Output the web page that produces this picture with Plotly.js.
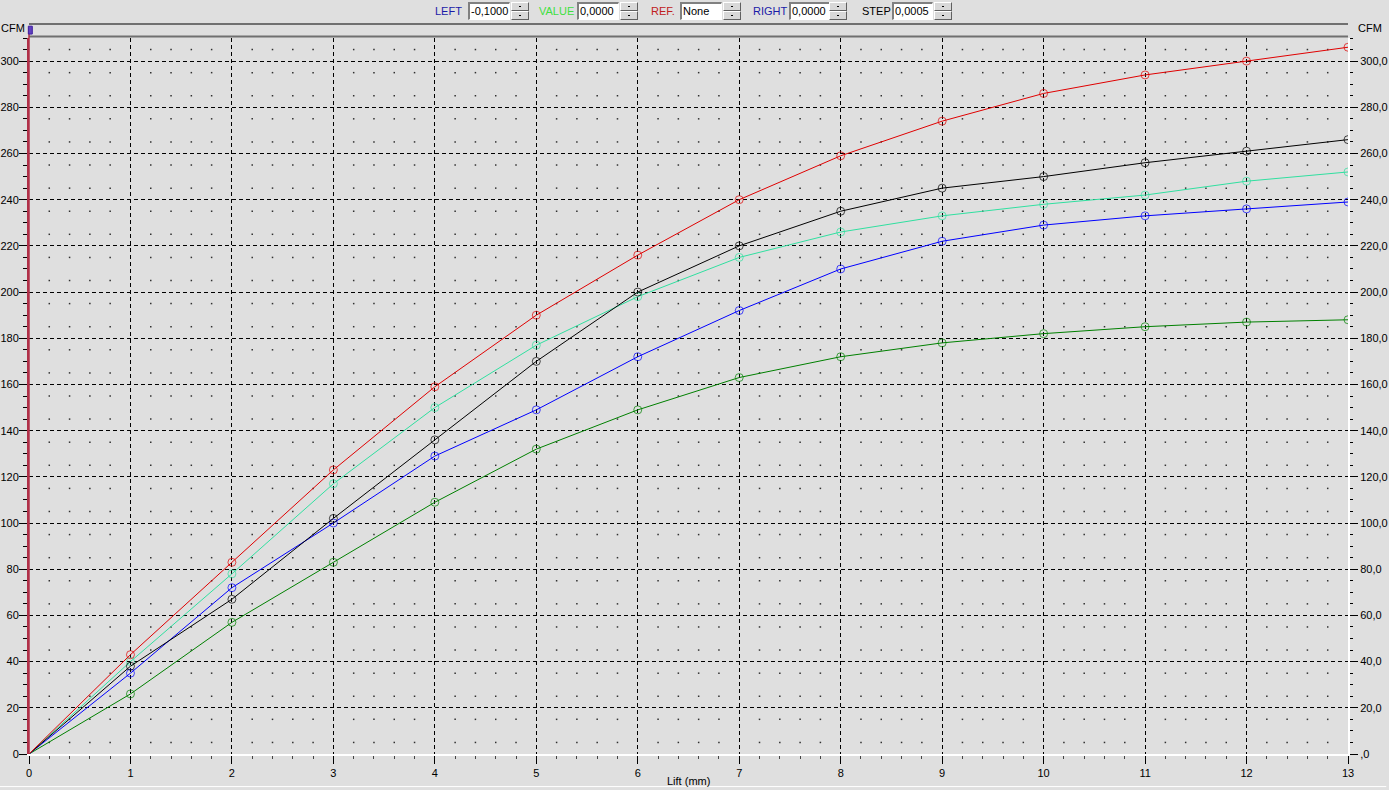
<!DOCTYPE html>
<html>
<head>
<meta charset="utf-8">
<script src="https://cdn.plot.ly/plotly-3.0.1.min.js"></script>
<style>
html,body{margin:0;padding:0;background:#dfdfdf;overflow:hidden;}
#chart{position:absolute;left:0;top:0;width:1389px;height:790px;}
.lbl{position:absolute;top:4px;font-family:"Liberation Sans",Arial,sans-serif;font-size:11px;line-height:14px;}
.box{position:absolute;top:2px;height:15px;background:#fff;border-top:2px solid #808080;border-left:2px solid #808080;border-bottom:1px solid #fff;border-right:1px solid #fff;font-family:"Liberation Sans",Arial,sans-serif;font-size:11px;line-height:15px;padding-left:1px;color:#000;box-sizing:content-box;}
.spin{position:absolute;top:2px;width:18px;height:19px;}
.spin div{position:absolute;left:0;width:16px;height:7px;background:#d8d8d8;border-top:1px solid #fff;border-left:1px solid #fff;border-right:1px solid #606060;border-bottom:1px solid #606060;}
.spin div:after{content:"";position:absolute;left:7px;width:2px;height:1px;background:#000;top:3px;}
</style>
</head>
<body>
<div id="chart"></div>
<div id="toolbar"></div>
<script>
// ---- data ----
var liftMm = [0,1,2,3,4,5,6,7,8,9,10,11,12,13];
var cfmRed       = [0,43,83,123,159,190,216,240,259,274,286,294,300,306];
var cfmBlack     = [0,38,67,102,136,170,200,220,235,245,250,256,261,266];
var cfmLightGreen= [0,40,78,117,150,177,198,215,226,233,238,242,248,252];
var cfmBlue      = [0,35,72,100,129,149,172,192,210,222,229,233,236,239];
var cfmDarkGreen = [0,26,57,83,109,132,149,163,172,178,182,185,187,188];

var yTickVals  = [0,20,40,60,80,100,120,140,160,180,200,220,240,260,280,300];
var yTickLeft  = ["0","20","40","60","80","100","120","140","160","180","200","220","240","260","280","300"];
var yTickRight = [",0","20,0","40,0","60,0","80,0","100,0","120,0","140,0","160,0","180,0","200,0","220,0","240,0","260,0","280,0","300,0"];
var xTickVals  = [0,1,2,3,4,5,6,7,8,9,10,11,12,13];

var toolbarItems = [
  {label:"LEFT",  color:"#1a1aa8", value:"-0,1000"},
  {label:"VALUE", color:"#40e040", value:"0,0000"},
  {label:"REF.",  color:"#c02020", value:"None"},
  {label:"RIGHT", color:"#1a1aa8", value:"0,0000"},
  {label:"STEP",  color:"#000000", value:"0,0005"}
];

// ---- toolbar (widget row above chart) ----
var tbPos = [
  {lx:435, bx:468, bw:38, sx:511},
  {lx:539, bx:577, bw:38, sx:620},
  {lx:651, bx:680, bw:38, sx:723},
  {lx:753, bx:789, bw:37, sx:829},
  {lx:862, bx:892, bw:37, sx:934}
];
var tb = document.getElementById('toolbar');
toolbarItems.forEach(function(it,i){
  var p = tbPos[i];
  var l = document.createElement('div'); l.className='lbl'; l.style.left=p.lx+'px'; l.style.color=it.color; l.textContent=it.label; tb.appendChild(l);
  var b = document.createElement('div'); b.className='box'; b.style.left=p.bx+'px'; b.style.width=p.bw+'px'; b.textContent=it.value; tb.appendChild(b);
  var s = document.createElement('div'); s.className='spin'; s.style.left=p.sx+'px';
  var u = document.createElement('div'); u.style.top='0px'; var d = document.createElement('div'); d.style.top='9px';
  s.appendChild(u); s.appendChild(d); tb.appendChild(s);
});

// ---- minor dot grid (decoration) ----
var dotX = [], dotY = [];
for (var i = 1; i < 65; i++) {
  if (i % 5 === 0) continue;
  for (var j = 0; j < 31; j++) { dotX.push(i * 0.2); dotY.push(5 + j * 10); }
}

function series(y, color) {
  var sizes = y.map(function(v,k){ return k === 0 ? 0 : 8; });
  return {
    x: liftMm, y: y, type: 'scatter', mode: 'lines+markers',
    line: {color: color, width: 1},
    marker: {symbol: 'circle-open', size: sizes, color: color, line: {width: 1, color: color}},
    hoverinfo: 'skip', showlegend: false
  };
}

var traces = [
  {x: dotX, y: dotY, type: 'scatter', mode: 'markers', marker: {symbol: 'square', size: 1.5, color: '#303030'}, hoverinfo: 'skip', showlegend: false},
  series(cfmDarkGreen, '#008000'),
  series(cfmBlue, '#0000ff'),
  series(cfmLightGreen, '#30e0a0'),
  series(cfmBlack, '#000000'),
  series(cfmRed, '#e00000'),
  {x: [0], y: [0], yaxis: 'y2', type: 'scatter', mode: 'markers', marker: {opacity: 0}, hoverinfo: 'skip', showlegend: false}
];

var font = {family: '"Liberation Sans", Arial, sans-serif', size: 11, color: '#000'};

var layout = {
  width: 1389, height: 790,
  margin: {l: 29, r: 41, t: 38, b: 36, pad: 0},
  paper_bgcolor: '#dfdfdf', plot_bgcolor: '#dfdfdf',
  font: font,
  showlegend: false,
  hovermode: false,
  xaxis: {
    range: [0, 13], tickvals: xTickVals, ticktext: xTickVals.map(String),
    showgrid: true, gridcolor: '#000', gridwidth: 1, griddash: '4px,3px',
    zeroline: false, showline: true, linecolor: '#ffffff', linewidth: 2,
    ticks: 'outside', ticklen: 8, tickcolor: '#000', tickwidth: 1,
    minor: {dtick: 0.2, ticks: 'outside', ticklen: 3, tickcolor: '#444', showgrid: false},
    tickfont: font, fixedrange: true
  },
  yaxis: {
    range: [0, 310], tickvals: yTickVals, ticktext: yTickLeft,
    showgrid: true, gridcolor: '#000', gridwidth: 1, griddash: '4px,3px',
    zeroline: false, showline: true, linecolor: '#b03048', linewidth: 2,
    ticks: 'outside', ticklen: 8, tickcolor: '#000', tickwidth: 1,
    ticklabelstandoff: -2,
    minor: {dtick: 5, ticks: 'outside', ticklen: 4, tickcolor: '#000', showgrid: false},
    tickfont: font, fixedrange: true
  },
  yaxis2: {
    overlaying: 'y', side: 'right', range: [0, 310],
    tickvals: yTickVals, ticktext: yTickRight,
    showgrid: false, zeroline: false, showline: true, linecolor: '#ffffff', linewidth: 2,
    ticks: 'outside', ticklen: 8, tickcolor: '#000', tickwidth: 1,
    minor: {dtick: 5, ticks: 'outside', ticklen: 3, tickcolor: '#000', showgrid: false},
    tickfont: font, fixedrange: true
  },
  shapes: [
    {type: 'line', xref: 'paper', yref: 'paper', x0: 0, x1: 1, y0: 1.0195, y1: 1.0195, line: {color: '#707070', width: 2}},
    {type: 'line', xref: 'paper', yref: 'paper', x0: 0, x1: 1, y0: 1.002, y1: 1.002, line: {color: '#707070', width: 2}},
    {type: 'line', xref: 'paper', yref: 'paper', x0: 0, x1: 0, y0: 0, y1: 1.014, line: {color: '#b03048', width: 1.5}},
    {type: 'rect', xref: 'paper', yref: 'paper', x0: -0.0005, x1: 0.0025, y0: 1.0055, y1: 1.0165, fillcolor: '#6040c0', line: {color: '#4020a0', width: 1}},
    {type: 'line', xref: 'paper', yref: 'paper', x0: -0.022, x1: 1.029, y0: -0.0455, y1: -0.0455, line: {color: '#ffffff', width: 1}}
  ],
  annotations: [
    {text: 'CFM', xref: 'paper', yref: 'paper', x: 0, y: 1, xanchor: 'center', yanchor: 'middle', xshift: -16, yshift: 10, showarrow: false, font: font},
    {text: 'CFM', xref: 'paper', yref: 'paper', x: 1, y: 1, xanchor: 'center', yanchor: 'middle', xshift: 22, yshift: 10, showarrow: false, font: font},
    {text: 'Lift (mm)', xref: 'paper', yref: 'paper', x: 0.5, y: 0, xanchor: 'center', yanchor: 'middle', yshift: -27, showarrow: false, font: font}
  ]
};

Plotly.newPlot('chart', traces, layout, {displayModeBar: false, staticPlot: true});
</script>
</body>
</html>
